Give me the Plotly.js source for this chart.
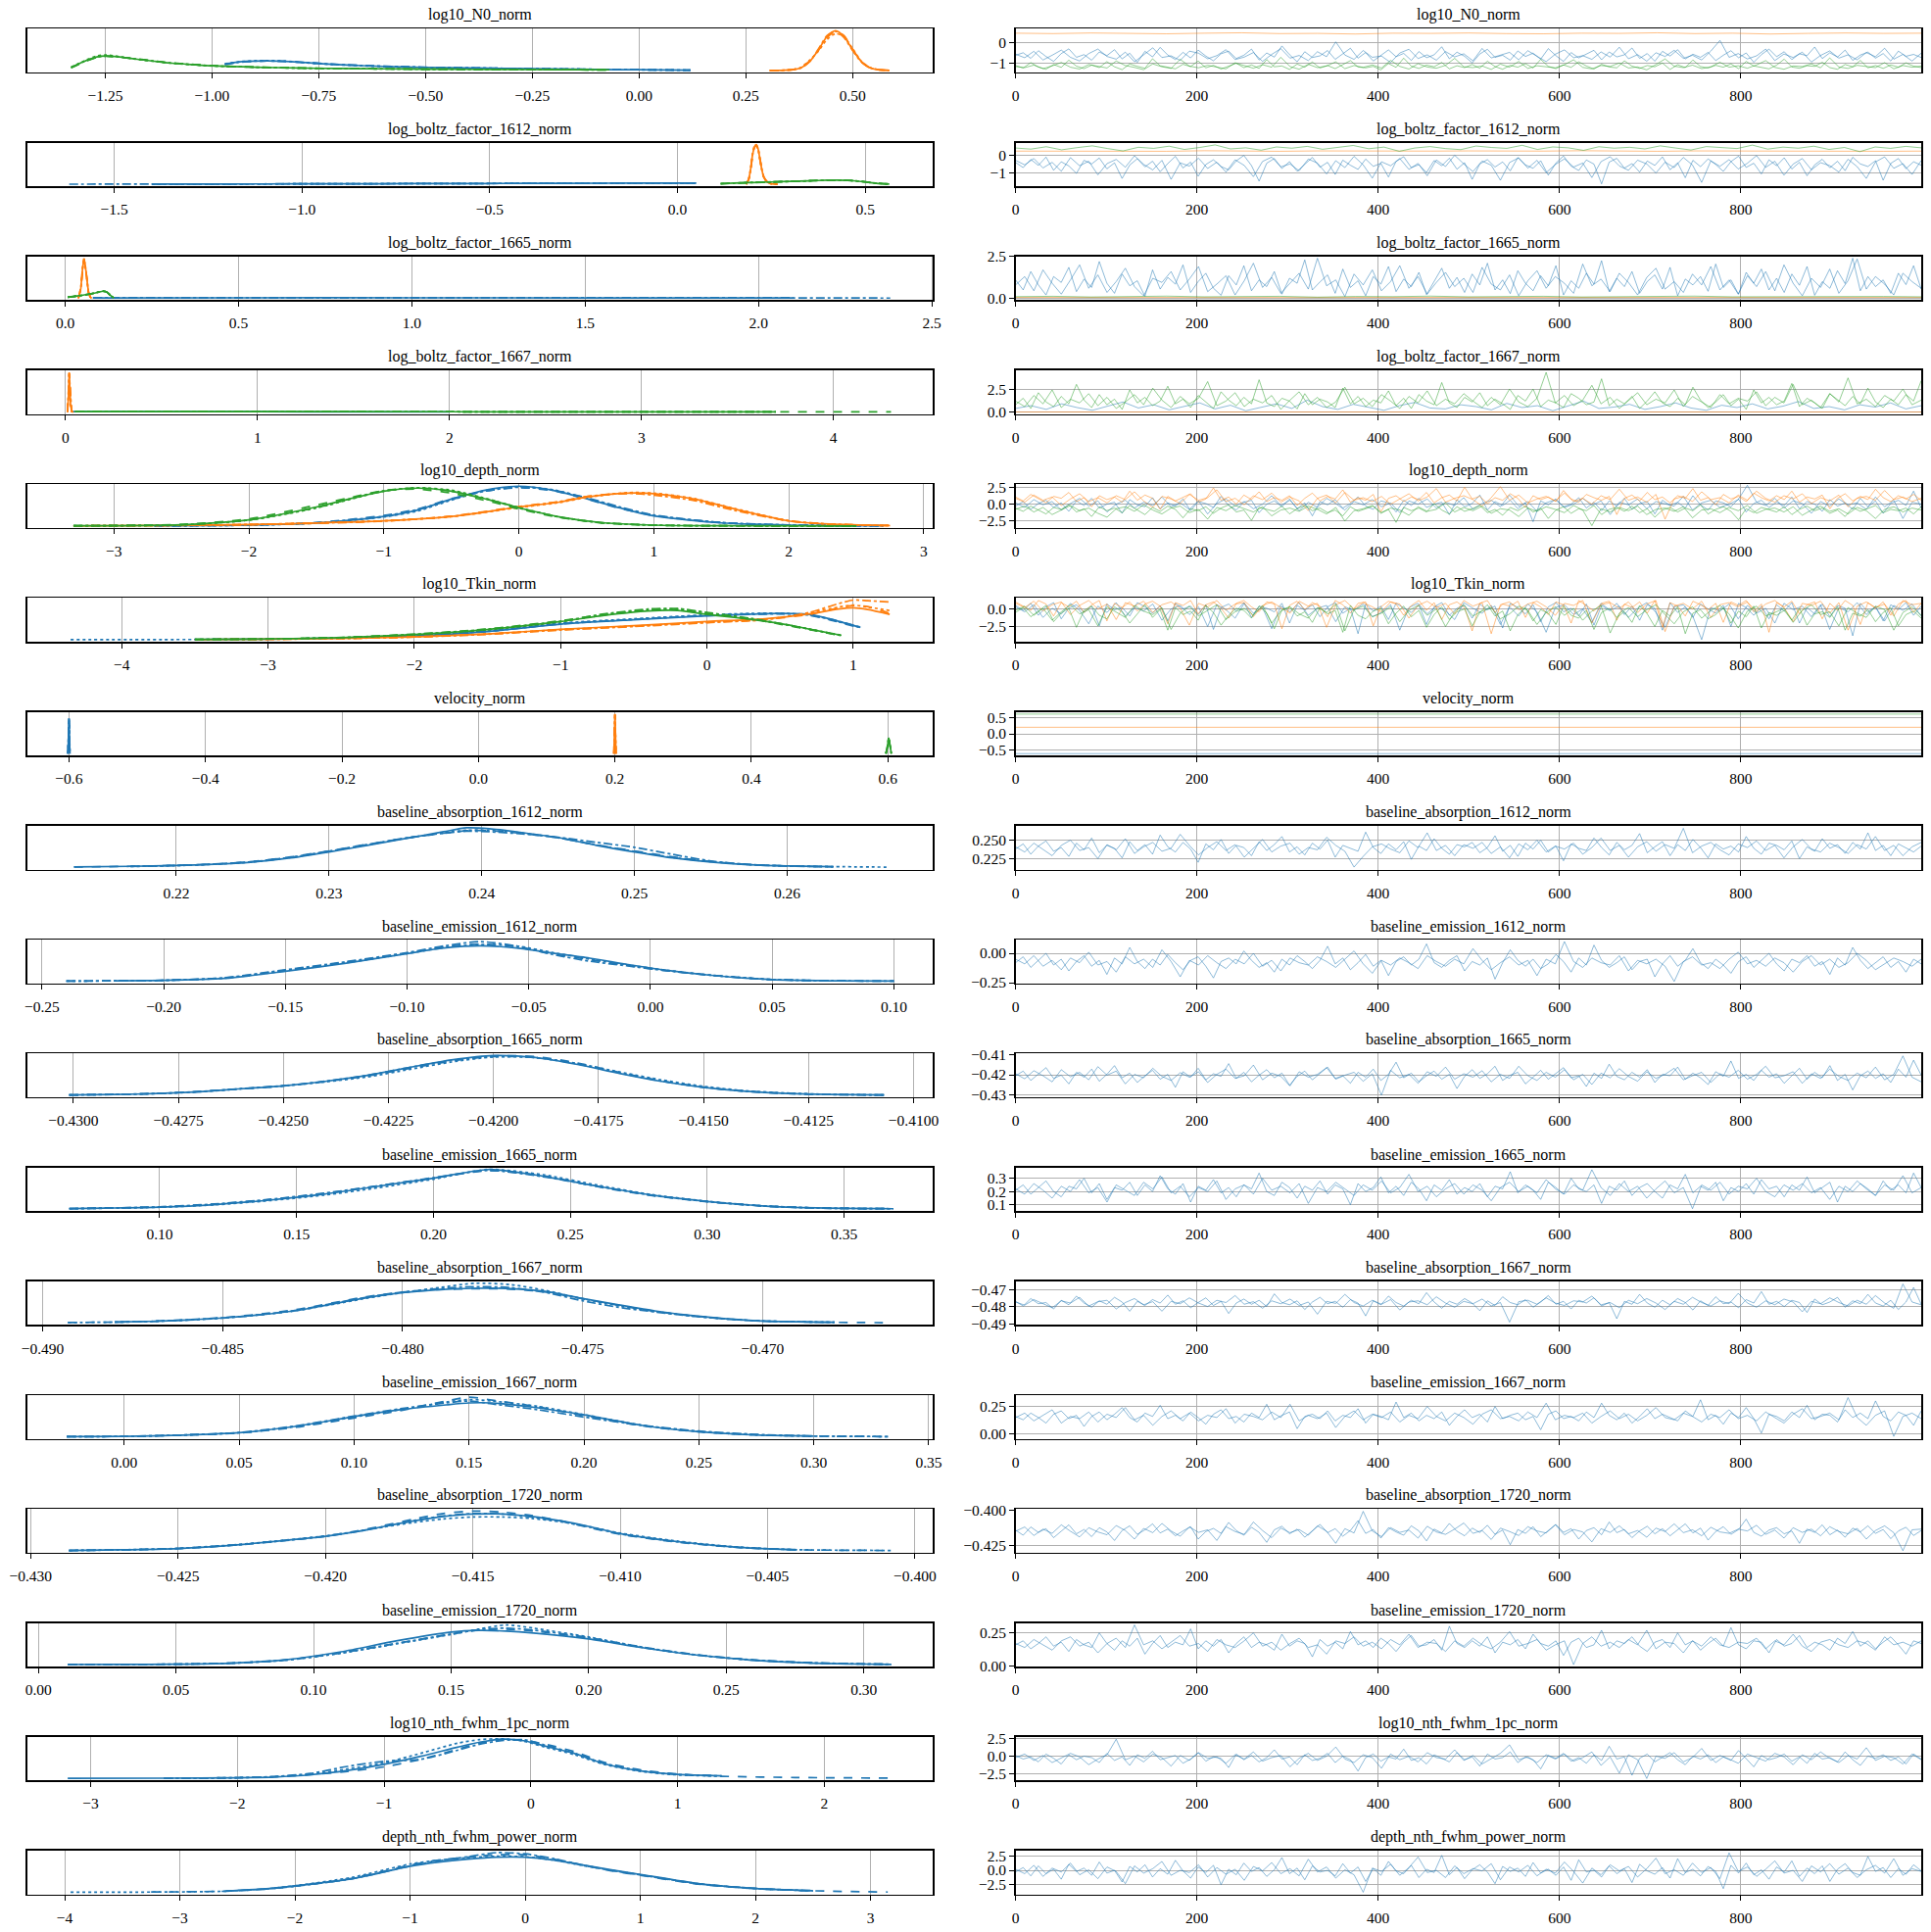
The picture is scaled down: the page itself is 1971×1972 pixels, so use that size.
<!DOCTYPE html>
<html><head><meta charset="utf-8">
<script src="https://cdn.plot.ly/plotly-3.0.1.min.js"></script>
<style>html,body{margin:0;padding:0;background:#fff}</style>
</head><body><div id="chart" style="width:1971px;height:1972px"></div>
<script>
// ---------- titles / axes text ----------
const titles = ["log10_N0_norm","log_boltz_factor_1612_norm","log_boltz_factor_1665_norm","log_boltz_factor_1667_norm","log10_depth_norm","log10_Tkin_norm","velocity_norm","baseline_absorption_1612_norm","baseline_emission_1612_norm","baseline_absorption_1665_norm","baseline_emission_1665_norm","baseline_absorption_1667_norm","baseline_emission_1667_norm","baseline_absorption_1720_norm","baseline_emission_1720_norm","log10_nth_fwhm_1pc_norm","depth_nth_fwhm_power_norm"];
// value range of each parameter (KDE x axis == trace y axis)
const valueRanges = [[-1.433,0.688],[-1.732,0.680],[-0.110,2.503],[-0.200,4.518],[-3.643,3.067],[-4.647,1.545],[-0.6613,0.6659],[0.21023,0.26954],[-0.2561,0.116],[-0.4311,-0.40954],[0.0516,0.3824],[-0.49043,-0.46527],[-0.04224,0.3518],[-0.43012,-0.39939],[-0.0041,0.3251],[-3.4326,2.7397],[-4.327,3.542]];
const kdeTicks = [[-1.25,-1,-0.75,-0.5,-0.25,0,0.25,0.5],[-1.5,-1,-0.5,0,0.5],[0,0.5,1,1.5,2,2.5],[0,1,2,3,4],[-3,-2,-1,0,1,2,3],[-4,-3,-2,-1,0,1],[-0.6,-0.4,-0.2,0,0.2,0.4,0.6],[0.22,0.23,0.24,0.25,0.26],[-0.25,-0.2,-0.15,-0.1,-0.05,0,0.05,0.1],[-0.43,-0.4275,-0.425,-0.4225,-0.42,-0.4175,-0.415,-0.4125,-0.41],[0.1,0.15,0.2,0.25,0.3,0.35],[-0.49,-0.485,-0.48,-0.475,-0.47],[0,0.05,0.1,0.15,0.2,0.25,0.3,0.35],[-0.43,-0.425,-0.42,-0.415,-0.41,-0.405,-0.4],[0,0.05,0.1,0.15,0.2,0.25,0.3],[-3,-2,-1,0,1,2],[-4,-3,-2,-1,0,1,2,3]];
const kdeFmt = [".2f",".1f",".1f",".0f",".0f",".0f",".1f",".2f",".2f",".4f",".2f",".3f",".2f",".3f",".2f",".0f",".0f"];
const trTicks = [[-1,0],[-1,0],[0,2.5],[0,2.5],[-2.5,0,2.5],[-2.5,0],[-0.5,0,0.5],[0.225,0.25],[-0.25,0],[-0.43,-0.42,-0.41],[0.1,0.2,0.3],[-0.49,-0.48,-0.47],[0,0.25],[-0.425,-0.4],[0,0.25],[-2.5,0,2.5],[-2.5,0,2.5]];
const trFmt = [".0f",".0f",".1f",".1f",".1f",".1f",".1f",".3f",".2f",".2f",".1f",".2f",".2f",".3f",".2f",".1f",".1f"];
const drawTicks = [0,200,400,600,800];

// ---------- KDE curves (x grid, density per chain: solid, dashed, dotted, dash-dot) ----------
const n0BlueX = [-0.97,-0.93,-0.90,-0.87,-0.83,-0.78,-0.72,-0.65,-0.55,-0.45,-0.35,-0.25,-0.15,-0.05,0.05,0.12];
const n0Blue = [[6.5,8.8,9.4,9.6,9.2,7.8,6.2,4.8,3.5,2.7,2.2,1.7,1.2,.8,.5,.3],[6,8.4,9.2,9.5,9.3,8,6.4,4.9,3.6,2.6,2.1,1.6,1.2,.8,.5,.3],[6.8,9,9.6,9.9,9.4,7.6,6,4.6,3.4,2.7,2.2,1.8,1.3,.9,.5,.3],[6.2,8.6,9.3,9.5,9,7.9,6.3,5,3.6,2.8,2.3,1.7,1.2,.8,.4,.2]];
const n0OrangeX = [.306,.33,.36,.38,.40,.42,.44,.46,.48,.50,.52,.54,.56,.586];
const n0Orange = [[0,.05,.7,2.9,9.2,20.8,34,40,34,20.8,9.2,2.9,.7,.05],[0,.1,.9,3.4,9.8,20,33,39,35,21.5,8.8,2.6,.6,.05],[0,.1,.8,3.1,10.5,19.5,31,37,34,22,9.5,3.0,.8,.1],[0,.05,.6,2.7,9,21.5,35,39.5,33,20,8.6,2.8,.7,.1]];
const n0GreenX = [-1.33,-1.30,-1.27,-1.25,-1.22,-1.18,-1.14,-1.10,-1.05,-1.0,-0.9,-0.8,-0.7,-0.6,-0.5,-0.4,-0.3,-0.2,-0.07];
const n0Green = [[3,9,13.5,14.6,13.8,11.5,9.5,7.5,6,4.6,3.3,2.4,1.9,1.6,1.3,1.1,.9,.8,.6],[2.5,8.5,13,14.2,13.5,11.8,9.8,7.8,6.2,4.8,3.4,2.5,1.9,1.5,1.2,1.0,.9,.7,.5],[3.2,9.5,14.5,15.6,14.2,11.4,9.3,7.4,5.8,4.5,3.2,2.3,1.8,1.5,1.3,1.1,.9,.8,.6],[2.8,8.8,13.2,14.4,13.6,11.6,9.6,7.6,6.1,4.7,3.3,2.4,1.9,1.6,1.3,1.1,.9,.7,.5]];

const b12BlueX = [-1.62,-1.4,-1.2,-1.0,-0.8,-0.6,-0.4,-0.2,0,0.05];
const b12Blue = [[null,.2,.3,.4,.55,.7,.9,1.1,1.3,1.2],[null,.2,.3,.45,.55,.75,.9,1.1,1.25,1.1],[null,.15,.3,.4,.6,.7,.95,1.1,1.3,1.2],[.1,.2,.3,.4,.55,.7,.9,1.05,1.3,1.2]];
const b12OrangeX = [.183,.19,.195,.20,.205,.21,.215,.22,.225,.23,.24,.25,.266];
const b12Orange = [[0,6,16,30,38,40,35,24,14,7,2,.5,0],[0,5,15,29,37,39,35,25,15,7.5,2.2,.5,0],[0,6.5,17,31,38.5,39,34,23,13.5,6.5,1.8,.4,0],[0,5.5,15.5,29.5,37.5,39.5,35.5,24.5,14.5,7,2,.5,0]];
const b12GreenX = [.115,.15,.2,.25,.3,.35,.4,.43,.46,.5,.53,.564];
const b12Green = [[.6,1.2,1.8,2.3,2.9,3.5,4.1,4.2,3.8,2.4,1,.3],[.5,1.1,1.7,2.3,3.0,3.6,4.2,4.3,3.7,2.3,1,.3],[.7,1.3,1.9,2.4,2.9,3.4,4.0,4.1,3.8,2.5,1.1,.3],[.6,1.2,1.8,2.2,2.8,3.5,4.1,4.2,3.9,2.4,1,.2]];

const b65BlueX = [.08,.5,1,1.5,2,2.1,2.38];
const b65Blue = [[.3,.35,.35,.3,.2,.15,null],[.3,.36,.34,.3,.2,.15,null],[.3,.35,.35,.31,.21,.16,null],[.3,.35,.35,.3,.2,.16,.1]];
const b65OrangeX = [.038,.045,.05,.054,.058,.062,.067,.072,.076];
const b65Orange = [[0,10,30,40,32,18,6,1,0],[0,9,28,39,33,19,6.5,1,0],[0,11,31,39.5,31,17,5.5,1,0],[0,10,29,40,32.5,18.5,6,1.2,0]];
const b65GreenX = [.007,.03,.06,.09,.11,.12,.13,.14];
const b65Green = [[1,2,3.5,5.5,7,6,3,.3],[1.1,2.1,3.6,5.4,6.8,6.2,3.2,.3],[.9,1.9,3.4,5.6,7.2,5.9,2.9,.3],[1,2,3.5,5.5,7,6.1,3,.4]];

const b67BlueX = [.03,.3,.6,1,1.5,2];
const b67Blue = [[.4,.5,.45,.35,.2,.1]];
const b67OrangeX = [.01,.015,.019,.022,.026,.032,.04];
const b67Orange = [[0,15,41,30,8,.5,0],[0,14,40,31,9,.6,0],[0,16,40.5,29,7.5,.5,0],[0,15,40,30,8,.5,0]];
const b67GreenX = [.05,.3,.6,1,1.5,2,2.5,3,3.7,4.3];
const b67Green = [[.5,.5,.45,.4,.35,.3,.25,.2,.15,null],[.5,.5,.45,.4,.35,.3,.25,.2,.15,.1],[.5,.5,.46,.4,.35,.3,.25,.2,.15,null],[.5,.49,.45,.4,.35,.3,.25,.2,.15,null]];

const depBlueX = [-2.7,-2,-1.5,-1,-.75,-.5,-.25,0,.25,.5,.75,1,1.5,2,2.7];
const depBlue = [[.1,.8,3,9.5,16,27,36,40,36,27.5,18,10,3,.8,.1],[.1,.9,3.4,10.5,17,27.5,35,38.5,35.5,27,17.5,10.5,3.3,.8,.1],[.1,.7,2.8,9,15,26,35.5,39.5,36.5,28,18.5,10.5,3.2,.9,.1],[.1,.8,3.1,9.8,16.5,26.5,35,39,36,28.5,19,11,3.4,.9,.1]];
const depOrangeX = [-3.3,-2.5,-2,-1.5,-1,-.5,0,.3,.5,.8,1,1.3,1.6,2,2.3,2.75];
const depOrange = [[0,.6,1.3,2.8,5,9.5,19,24,29,33,32.5,27,17,5,1.8,.3],[0,.5,1.2,2.6,4.8,9.8,19.5,24.5,29.5,32.5,31.5,26,16.5,5.2,1.9,.3],[0,.6,1.4,3,5.2,9.3,18.5,23.5,28.5,33.5,33,27.5,17.5,5.3,1.8,.3],[0,.6,1.3,2.9,5,9.5,19,24.5,29.5,33,31,25.5,15.5,5,1.7,.3]];
const depGreenX = [-3.3,-2.5,-2,-1.5,-1.2,-1,-.75,-.5,-.2,0,.3,.6,1,1.5,2.5];
const depGreen = [[.1,1.2,6,19,29,35,38,35,25.6,18.3,9.1,3.5,.8,.1,0],[.2,1.5,7,21,30,35.5,37,33,24,17,8.5,3.2,.7,.1,0],[.1,1.1,5.8,18,28.5,35,38.5,36,26,18.5,9,3.3,.7,.1,0],[.1,1.2,6,18.5,29,35.5,38.2,35,25.5,18,9,3.4,.8,.1,0]];

const tkBlueX = [-4.35,-3.5,-3,-2.5,-2,-1.5,-1,-.5,0,.3,.5,.7,.85,1.05];
const tkBlue = [[null,.2,.7,1.8,4,8.5,16,20.5,24.4,26.3,27,26,21,12.7],[null,.2,.7,1.9,4.2,8.8,16.5,21,25,26.5,26.8,25,20,12],[.1,.3,.8,2,4.3,9,17,21.5,25.5,27,27.2,25.5,20.5,12.5],[null,.2,.7,1.8,4.1,8.6,16.2,20.8,24.8,26,26.5,25.5,21,13]];
const tkOrangeX = [-3.5,-3,-2.5,-2,-1.5,-1,-.5,0,.4,.7,.9,1.0,1.1,1.25];
const tkOrange = [[.2,.6,1.4,3,6,10.7,14.4,18.7,21.5,26.5,31.5,32.7,31,26],[.2,.6,1.3,2.8,5.8,10.2,13.8,17.8,20.8,26,32.5,35,34,27],[.2,.6,1.4,3,5.9,10.5,14,18,21,27.5,33.5,35.5,33.5,30],[.2,.5,1.3,2.8,5.6,10,13.5,17.5,20.5,28,37,40.7,40,38.7]];
const tkGreenX = [-3.5,-3,-2.5,-2,-1.5,-1,-.7,-.4,-.2,0,.3,.5,.7,.92];
const tkGreen = [[.3,.8,2.2,5.4,10.5,18.7,25,29.5,30,26,21,16.7,11,4.5],[.3,.9,2.4,5.8,11,19.5,26,30.5,31,27,21.5,16,10.5,4.2],[.2,.8,2.1,5.2,10.3,18.5,25.5,30.5,31.5,27.5,21,16.5,11,4.6],[.3,.8,2.3,5.5,10.8,19,26.5,31.5,32,28,22,16.8,10.8,4.3]];

const velBlueX = [-.6015,-.601,-.6005,-.6,-.5995,-.599,-.5985];
const velBlue = [[0,8,28,37,28,8,0],[0,7,27,36,29,9,0],[0,9,29,36.5,27,7,0],[0,8,28,37,28,8,0]];
const velOrangeX = [.1985,.199,.1995,.2,.2005,.201,.2015];
const velOrange = [[0,9,30,41.6,30,9,0],[0,8,29,41,31,10,0],[0,10,31,40.5,29,8,0],[0,9,30,41.2,30,9,0]];
const velGreenX = [.597,.598,.599,.6,.601,.602,.603,.604,.605];
const velGreen = [[0,2,6,11,16.6,14,8,3,0],[0,2.5,6.5,12,16,13,7,2.5,0],[0,1.8,5.5,10.5,16.2,14.5,8.5,3,0],[0,2,6,11.5,16.4,13.5,7.5,2.8,0]];

const ab12X = [.2133,.217,.22,.2225,.225,.2275,.23,.2325,.235,.2375,.239,.2405,.2425,.245,.2475,.25,.2525,.255,.2575,.26,.263,.2665];
const ab12 = [[.5,1.2,2,3.3,5.4,9.5,15.4,22,28.7,35.5,39.4,38.5,35,29.7,22,15.4,9.5,5.4,2.8,1.5,.8,null],[.5,1.2,2.1,3.5,6,10.5,16.5,23,29,34,36.5,36.5,34,29.5,22.5,16.5,10.5,6,3,1.6,.8,null],[null,1,1.9,3.2,5.5,10,16,22.5,29,34.5,37,37,34.5,29.5,22.5,16,10,5.8,3,1.6,.9,.4],[null,1.1,2,3.4,5.8,10.2,16.2,22.8,29.2,34,36,35.5,33.5,30,25,20,13,6.5,3,1.4,.7,null]];
const em12X = [-.24,-.22,-.2,-.175,-.15,-.125,-.1,-.085,-.07,-.055,-.04,-.025,-.01,.005,.025,.05,.075,.1];
const em12 = [[null,.6,1,3,10,18,27.5,33,35.3,33,28,23,17,11.5,6,1.7,.6,.3],[.3,.6,1.1,3.5,11,19,28,34,37,34,27,21.5,16,11,6,1.8,.6,.3],[.3,.5,1,3.2,10.5,18.5,27.5,33.5,36.5,35,28.5,22,16.5,11.5,6.2,1.9,.7,null],[.3,.6,1.1,3.6,11.5,19.5,28.5,35,39.3,35,26.5,20,15.5,11,6,1.8,.6,.3]];
const ab65X = [-.4301,-.429,-.428,-.427,-.426,-.425,-.424,-.423,-.422,-.421,-.42,-.419,-.418,-.417,-.416,-.415,-.414,-.413,-.412,-.4107];
const ab65 = [[.3,.8,1.7,3.6,6.6,9.5,14,20,28,35.5,40,38,31,22,14,8,4,1.8,.8,.3],[.3,.8,1.8,3.7,6.5,9.4,13.8,19.5,27,34.5,39.5,39,32.5,23,14.5,8,3.9,1.7,.7,.3],[.3,.8,1.7,3.5,6.4,9.3,13.5,18.5,26,33.5,38.5,38,32,23.5,15.5,9,4.6,2.2,.9,.3],[.3,.9,1.8,3.7,6.7,9.6,14.2,20.2,28,35,39,38,31.5,22.5,14.2,8.2,4.1,1.8,.7,.3]];
const em65X = [.067,.08,.1,.12,.14,.16,.18,.2,.22,.24,.26,.28,.3,.32,.34,.368];
const em65 = [[.5,1,2,4.5,9,15,23,31,39.7,33,23,14,7.7,3.3,1.2,.4],[.5,1,2.2,5,9.5,15.5,23.5,31,38.5,33.5,22.5,13.5,7.4,3.2,1.1,.4],[.4,.9,1.9,4.3,8.5,14,21.5,30,39.8,34.5,24,14.5,7.9,3.4,1.2,.4],[.5,1.1,2.3,5.2,9.8,16,23.5,31.5,38.8,32.5,22.8,13.8,7.6,3.2,1.1,.4]];
const ab67X = [-.4893,-.488,-.487,-.486,-.485,-.484,-.483,-.482,-.481,-.48,-.479,-.478,-.477,-.476,-.475,-.474,-.473,-.472,-.471,-.47,-.468,-.4664];
const ab67 = [[null,.9,1.6,3,5,8,12,18.5,25,30,33,34.3,34,31,24.3,18,12,7.5,4.2,2,.7,null],[.5,.9,1.7,3.2,5.4,8.6,13,19.5,26,30.5,33,34,33.5,30.5,24,17.5,11.5,7.2,4,1.9,.7,.3],[.5,.9,1.6,3,5,8,12,18,24.5,30,35,39.3,38,32,24,17,11.5,7.2,4,2,.8,null],[null,.8,1.5,2.9,4.9,8,12.3,19,25.5,30.5,34,36,35,30,22,15.5,11,7,4,2,.7,null]];
const em67X = [-.025,0,.025,.05,.075,.1,.12,.14,.15,.16,.18,.2,.225,.25,.275,.3,.333];
const em67 = [[.2,.5,1.8,4.3,11,21,28,33,35,35,30,22.7,12,5.3,2,.8,null],[.2,.5,1.7,4,10,19.5,27,37,41,38,31,22,11.5,5.2,2,.8,.3],[.2,.5,1.8,4.2,10.8,20.5,28,36,38.5,37,31.5,23,12.2,5.4,2,.8,.3],[.2,.5,1.9,4.5,11.5,21.5,29,35,37,34,28,20.5,12,6,2.6,.9,.3]];
const ab20X = [-.4287,-.427,-.425,-.423,-.421,-.42,-.419,-.418,-.417,-.416,-.415,-.414,-.413,-.412,-.411,-.41,-.408,-.406,-.404,-.4008];
const ab20 = [[.3,.9,2.3,6,11.5,14.6,19,24.5,30,34.5,37,37,34.5,30,24,17.3,9,3.5,1,null],[.3,.9,2.3,6,11.5,14.8,19.5,25.5,32,37.5,40,39,35.5,30,23,16.5,8.5,3.3,1,.3],[.3,.9,2.4,6.2,11.8,15,19.2,24,28.5,32,34,34,32.5,29,24,17.8,9.5,3.8,1.1,.3],[.3,.8,2.2,5.8,11.3,14.5,19,24.5,30.5,35,37.5,37,34,29.5,23.5,17,8.8,3.4,1,null]];
const em20X = [.0107,.03,.05,.07,.09,.11,.13,.15,.16,.17,.18,.2,.22,.24,.26,.28,.3,.31];
const em20 = [[.1,.2,.4,1.5,5,13,24,33,34.7,34,32,26,17,9.5,4.5,1.8,.6,.3],[.1,.2,.5,1.6,4.8,12,21.5,31,35,36,34,27,17.5,9.8,4.6,1.9,.6,.3],[.1,.2,.5,1.5,4.5,11.5,21,30.5,36,40.3,37,28,17.5,9.5,4.5,1.8,.6,.3],[.1,.2,.4,1.4,4.6,12,21.5,31,35.5,37,35,27.5,17.2,9.6,4.7,2,.8,.4]];
const nthX = [-3.156,-2.5,-2,-1.75,-1.5,-1.25,-1,-.75,-.5,-.35,-.2,-.05,.1,.3,.5,.75,1,1.3,1.8,2.45];
const nth = [[.1,.3,.7,1.5,3.7,8,14,22,31,36,39,37.5,32,24.7,14.7,7.5,4,2.7,null,null],[null,.3,.8,1.6,3.8,7,11.5,19,29,35,38.5,38,34,26.5,16,8.5,4.5,2.2,1,.4],[null,.3,.8,1.8,4.2,9.5,15.5,25,35,38.5,39.4,37,31,23.5,14,7,3.6,2.3,null,null],[null,.2,.7,2,5,12,17,19,28,34,37.5,38.5,33,25,15,7.8,4,2.6,null,null]];
const dnpX = [-3.95,-3.25,-2.6,-2.25,-2,-1.5,-1,-.75,-.5,-.25,0,.25,.5,.75,1,1.5,2,2.5,3.15];
const dnp = [[null,null,1.5,3.8,6.7,14,26.7,31,34,36,36,33,28,23,18.4,9,4,1.7,null],[null,.4,1.2,3.5,6.3,14.5,28,33,36,38.5,38.5,34,28,22,17.5,8.5,3.8,1.6,.3],[.2,.3,1.2,3.6,6.8,15.5,29,33,35.5,37,36.5,33,27.5,22.5,18,8.8,3.9,1.5,null],[null,null,1.3,3.4,6.2,14,27,32.5,36.5,40.7,39.5,34.5,28,22.5,18,9,4.1,1.8,null]];

// ---------- traces (draws, thinned; two chains for noisy components) ----------
const trN0Blue = [-.55,-.72,-.41,-.83,-.6,-.35,-.7,-.88,-.52,-.3,-.66,-.79,-.45,-.92,-.58,-.24,-.71,-.63,-.85,-.4,-.5,-.77,-.62,-.33,-.81,-.69,-.47,-.9,-.56,-.28,-.74,-.61,-.86,-.43,-.67,.05,-.59,-.8,-.37,-.7,-.64,-.95,-.49,-.31,-.76,-.58,-.84,-.42,-.68,-.53,-.87,-.27,-.73,-.6,-.46,-.82,-.38,-.65,-.91,-.55,-.34,-.72,-.62,-.8,-.44,-.69,-.21,-.77,-.57,-.89,-.48,-.66,-.36,-.75,-.6,-.83,-.4,.12,-.7,-.52,-.78,-.63,-.3,-.86,-.54,-.71,-.45,-.93,-.61,-.39,-.74,-.58,-.82,-.47,-.67,-.26,-.79,-.56,-.88,-.5];
const trN0Blue2 = [-.6,-.48,-.75,-.38,-.66,-.9,-.52,-.29,-.7,-.57,-.84,-.44,-.62,-.33,-.78,-.5,-.95,-.41,-.68,-.22,-.59,-.81,-.46,-.73,-.35,-.64,-.87,-.53,-.4,-.76,-.6,-.3,-.83,-.49,-.69,-.15,-.57,-.92,-.43,-.71,-.63,-.37,-.8,-.55,-.26,-.74,-.47,-.88,-.61,-.34,-.67,-.51,-.85,-.42,-.72,-.58,-.19,-.77,-.45,-.65,-.97,-.54,-.31,-.7,-.6,-.84,-.39,-.66,-.5,-.79,-.28,-.62,-.9,-.47,-.73,-.56,-.36,-.82,-.44,-.68,-.58,-.25,-.75,-.52,-.89,-.41,-.64,-.33,-.78,-.55,-.7,-.46,-.86,-.6,-.38,-.72,-.49,-.94,-.57,-.3,-.67,-.43,-.81,-.53,-.62,-.2,-.76,-.48,-.69,-.35,-.85,-.59,-.45,-.74,-.52,-.88,-.4,-.65,-.56,-.71];
const trN0Orange = [.47,.45,.48,.46,.44,.47,.49,.45,.46,.43,.47,.46,.48,.45,.44,.47,.46,.49,.45,.47,.43,.46,.48,.46,.47];
const trN0Green = [-1.15,-1.2,-1.08,-1.25,-1.12,-.95,-1.18,-1.27,-1.05,-1.14,-1.22,-.88,-1.1,-1.19,-1.3,-1.02,-1.16,-1.24,-.8,-1.13,-1.21,-1.09,-1.17,-1.26,-.97,-1.11,-1.23,-1.06,-1.18,-.7,-1.15,-1.28,-1.04,-1.2,-1.12,-.92,-1.25,-1.1,-1.19,-1.07,-1.22,-.85,-1.14,-1.27,-1.01,-1.17,-1.23,-1.09,-.75,-1.16,-1.2,-1.12,-1.29,-1.03,-1.18,-.9,-1.24,-1.11,-1.15,-1.21,-1.06,-.82,-1.19,-1.26,-1.1,-1.14,-.98,-1.22,-1.17,-1.31,-1.05,-.78,-1.13,-1.2,-1.08,-1.25,-1.16,-.94,-1.18,-1.11,-1.23,-1.07,-.86,-1.19,-1.28,-1.12,-1.15,-1.02,-1.21,-.73,-1.17,-1.24,-1.09,-1.14,-1.2,-.96,-1.26,-1.1,-1.18,-1.13];
const trN0Green2 = [-1.1,-1.22,-.96,-1.17,-1.28,-1.05,-1.19,-.84,-1.13,-1.25,-1.08,-1.2,-.91,-1.16,-1.3,-1.02,-1.14,-1.23,-.77,-1.11,-1.18,-1.26,-1.04,-1.15,-.88,-1.21,-1.09,-1.27,-1.13,-.99,-1.2,-1.07,-1.24,-.81,-1.16,-1.12,-1.29,-1.03,-1.18,-.93,-1.22,-1.1,-1.25,-1.06,-.86,-1.17,-1.21,-1.14,-1.31,-1.0,-1.19,-.74,-1.13,-1.24,-1.08,-1.16,-.95,-1.26,-1.11,-1.2,-1.05,-1.23,-.89,-1.15,-1.28,-1.09,-1.18,-1.01,-1.22,-.8,-1.14,-1.25,-1.07,-1.19,-.92,-1.12,-1.27,-1.04,-1.17,-1.21,-.87,-1.13,-1.24,-1.1,-1.16,-.98,-1.29,-1.06,-1.2,-.83,-1.15,-1.22,-1.09,-1.18,-1.02,-1.25,-.9,-1.12,-1.19,-1.26,-1.08,-.79,-1.17,-1.23,-1.11,-1.14,-.94,-1.2,-1.28,-1.05,-1.16,-.85,-1.21,-1.1,-1.24,-1.07,-1.18,-.97,-1.13,-1.2];
const trB12Blue = [-.3,-.55,-.2,-.72,-.41,-.9,-.15,-.6,-.35,-1.1,-.48,-.25,-.68,-.05,-.52,-.83,-.3,-1.35,-.44,-.62,-.18,-.75,-.4,-.95,-.27,-.58,-1.2,-.36,-.12,-.66,-.5,-.88,-.23,-.45,-1.05,-.32,-.7,-.08,-.55,-1.28,-.38,-.6,-.2,-.8,-.47,-1.15,-.28,-.64,-.02,-.5,-.92,-.34,-.57,-1.4,-.42,-.16,-.73,-.3,-.98,-.53,-.22,-.67,-.45,-1.25,-.37,-.1,-.61,-.85,-.29,-.5,-1.0,-.4,-.7,-.14,-.56,-1.52,-.33,-.63,-.26,-.78,-.46,-.04,-.69,-.35,-1.12,-.51,-.2,-.82,-.43,-.59,-.95,-.24,-.65,-1.3,-.39,-.11,-.74,-.48,-1.08,-.31];
const trB12Blue2 = [-.42,-.7,-.25,-.58,-.12,-.85,-.38,-.61,-1.02,-.3,-.5,-.17,-.77,-.44,-1.3,-.56,-.21,-.66,-.35,-.93,-.48,-.08,-.72,-.4,-1.18,-.53,-.27,-.64,-.83,-.33,-.03,-.59,-1.45,-.46,-.2,-.75,-.37,-.9,-.52,-.14,-.68,-.41,-1.08,-.29,-.57,-.8,-.23,-.63,-.47,-1.22,-.36,-.1,-.7,-.54,-.97,-.31,-.6,-.18,-.79,-.43,-1.35,-.5,-.26,-.67,-.39,-.88,-.15,-.55,-.74,-.32,-1.12,-.45,-.06,-.62,-.86,-.28,-.51,-1.6,-.4,-.19,-.73,-.48,-.95,-.34,-.58,-.11,-.82,-.44,-1.26,-.3,-.65,-.22,-.53,-.91,-.37,-.07,-.69,-.46,-1.05,-.27,-.6,-.16,-.78,-.41,-1.15,-.55,-.24,-.71,-.35,-.87,-.13,-.5,-.64,-.32,-1.4,-.47,-.2,-.76,-.38,-.57];
const trB12Orange = [.21,.2,.22,.21,.2,.23,.21,.2,.22,.21,.19,.21,.22,.2,.21,.23,.21,.2,.22,.21,.2,.22,.21,.2,.21];
const trB12Green = [.38,.32,.45,.28,.4,.5,.35,.22,.42,.36,.48,.3,.41,.55,.33,.39,.26,.44,.37,.47,.31,.4,.52,.34,.43,.2,.38,.46,.35,.29,.49,.41,.36,.53,.3,.44,.39,.25,.45,.37,.42,.33,.5,.38,.27,.46,.4,.35,.54,.32,.43,.37,.48,.3,.41,.18,.44,.36,.47,.39];
const trB65Blue = [.8,1.3,.45,1.7,.9,.25,1.1,2.0,.6,1.4,.35,1.0,1.8,.7,.15,1.2,.95,1.6,.5,1.15,1.9,.4,.85,1.35,.2,1.05,2.1,.65,1.25,.3,.9,1.5,.55,2.4,.75,1.1,.1,1.45,.8,1.7,.45,1.0,1.95,.6,1.3,.25,.95,1.55,.7,1.2,.35,1.85,.85,.5,1.4,.15,1.05,1.65,.6,1.3,.9,.3,2.05,.75,1.15,.4,1.5,.95,.2,1.25,1.8,.55,1.0,.35,1.45,.8,1.9,.5,1.1,.25,1.35,.7,1.6,.45,2.0,.9,.15,1.2,.65,1.75,.3,1.05,2.35,.55,1.3,.85,.2,1.5,1.0,.6];
const trB65Blue2 = [1.1,.5,1.6,.8,.2,1.3,.95,1.85,.4,1.15,.65,2.2,.9,.3,1.45,.75,1.05,.12,1.7,.55,1.25,.85,2.0,.35,1.0,1.5,.6,.18,1.35,.8,1.95,.45,1.1,.7,1.6,.25,1.2,.9,2.3,.5,.98,1.4,.3,1.75,.65,1.05,.15,1.3,.85,1.9,.4,1.15,.7,1.55,.22,1.0,1.8,.6,1.25,.35,1.45,.8,2.1,.5,1.1,.28,1.65,.9,.45,1.35,.75,1.95,.2,1.05,.6,1.5,.85,2.25,.4,1.2,.7,1.6,.3,1.0,1.4,.55,1.85,.15,1.15,.8,1.3,.42,2.05,.65,1.1,.25,1.55,.9,1.75,.5,1.2,.35,1.45,.78,1.9,.18,1.0,.6,1.65,.88,2.4,.45,1.3,.7,1.1,.3,1.5,.82,1.95,.55];
const trB65Orange = [.055,.05,.06,.054,.058,.052,.056,.06,.05,.055,.057,.053,.059,.055,.051,.056,.058,.054,.06,.053,.055,.057,.052,.056,.055];
const trB65Green = [.1,.12,.08,.11,.13,.09,.1,.12,.07,.11,.1,.13,.09,.11,.12,.08,.1,.11,.13,.09,.1,.12,.1,.11,.09];
const trB67Blue = [.4,.7,.3,.9,.5,.2,.65,1.1,.45,.8,.25,.6,1.0,.35,.75,.15,.55,.9,.4,1.3,.6,.3,.85,.5,.2,.7,1.05,.45,.35,.8,.6,.25,.95,.5,.7,.15,.65,1.2,.4,.55,.85,.3,.6,1.0,.45,.2,.75,.5,.9,.35,.65,1.15,.4,.6,.25,.8,.55,1.0,.35,.7];
const trB67Orange = [.02,.025,.018,.022,.02,.03,.019,.021,.024,.017,.02,.023,.02,.026,.019,.021,.02,.024,.018,.02];
const trB67Green = [1.2,.6,1.8,.9,2.4,.5,1.4,1.0,2.0,.7,1.6,.4,1.1,1.9,.8,2.6,1.3,.5,1.7,.9,1.5,3.3,.7,1.2,2.1,.6,1.4,1.0,1.8,.3,1.3,2.2,.8,1.6,.5,1.1,2.7,.9,1.5,.6,1.9,1.2,.4,1.7,1.0,2.3,.7,1.4,.9,2.0,1.2,.5,1.6,.8,2.5,1.1,.6,1.5,4.3,1.0,1.8,.7,1.3,2.9,.9,1.6,.4,1.2,2.1,.8,1.4,1.0,2.4,.6,1.7,1.1,.5,1.9,.9,1.5,1.2,2.2,.7,1.6,1.0,3.0,.8,1.3,.5,2.0,1.1,3.7,.9,1.4,.6,1.8,1.2,2.5,.8,1.3];
const trB67Green2 = [.8,1.5,.4,2.1,1.1,.6,1.7,.9,3.0,1.3,.5,1.9,.8,1.4,.3,2.4,1.0,1.6,.7,1.2,2.8,.9,1.4,.5,1.8,1.1,.4,2.2,1.3,.7,1.6,.9,3.5,1.0,.6,1.5,1.2,.35,2.0,.8,1.4,1.1,.5,2.6,.9,1.7,.6,1.3,1.0,2.3,.7,1.5,.4,1.9,1.2,.8,3.2,1.0,.5,1.6,1.1,2.1,.7,1.4,.9,.3,1.8,1.2,2.5,.6,1.3,1.0,.5,2.0,1.5,.8,1.1,3.6,.7,1.4,.9,1.7,.4,1.2,2.2,1.0,.6,1.5,.8,2.7,1.3,.5,1.1,1.9,.7,1.4,.3,2.4,1.0,1.6,.8,1.2,3.1,.6,1.5,1.0,.4,2.0,1.3,.7,1.7,.9,2.6,1.1,.5,1.4,.8,1.9,1.2,3.4];
const trDepBlue = [.2,-.5,.7,-.1,.4,-.9,.1,.9,-.3,.5,-1.2,0,.6,-.6,.3,-.2,1.1,-.4,.2,-.8,.5,-1.5,.1,.8,-.3,.4,-.7,0,1.3,-.2,.6,-1,.3,-.5,.9,.1,-.9,.4,-.1,.7,-.4,.2,-1.3,.5,0,.8,-.6,.3,-.2,1,-.8,.1,.6,-.4,1.4,-.3,.4,-1.1,.2,.7,-.5,0,.9,-.2,.5,-1.6,.3,-.1,.8,-.7,.4,.1,-.3,1.2,-.9,.2,.6,-.5,0,.7,2.9,.3,-.2,.9,-.6,.5,.1,-1.4,.4,-.3,.8,-.1,.2,-.8,1.1,-.4,.6,-2.2,.3,0];
const trDepBlue2 = [-.3,.4,-.8,.1,.6,-.5,.2,-1.1,.5,-.2,.9,-.6,0,.3,-1.4,.7,-.1,-.4,1.0,-.7,.2,-.3,.8,-1.0,.4,.1,-.5,1.2,-.2,-.9,.3,.6,-1.3,0,.5,-.4,.8,-.7,.2,-1.8,.4,-.1,.7,-.6,.1,1.1,-.3,-.8,.5,.2,-1.2,.6,-.2,.9,-.5,0,.3,-1.6,.7,-.4,.1,1.4,-.9,.4,-.2,.6,-.7,.2,-2.7,.5,-.1,.8,-.4,0,1.0,-.6,.3,-1.0,.5,-.3,.9,-.8,.1,.4,-1.5,.6,-.2,.3,-.6,1.3,-.1,-.9,.5,.2,-.4,.8,-1.2,.1,.6,-.5,.3,-.2,1.1,-.7,.4,0,-1.1,.7,-.3,.2,-.8,.9,-.4,.5,-1.4,.1,.6,-.2,2.0,-.6];
const trDepOrange = [.9,.3,1.4,.6,1.1,-.2,.8,1.6,.4,1.0,.2,1.3,.7,1.9,.5,-.5,1.2,.8,.1,1.5,.6,1.0,2.2,.4,.9,-.1,1.3,.7,1.7,.3,1.1,.5,-1.0,.9,1.4,.2,1.8,.6,1.0,.4,1.2,0,.8,1.6,.5,1.1,2.4,.3,.9,1.3,.7,-.3,1.0,2.7,.6,1.4,.2,.8,1.2,.5,1.7,.4,.9,0,1.3,.7,2.3,.6,1.1,.3,1.5,-2.3,.8,1.2,.4,1.9,.7,1.0,.2,1.4,.6,2.0,.9,.3,1.3,.8,1.6,.1,1.0,.5,1.4,-.4,.9,1.2,.6,2.1,.7,1.1,.4,.9];
const trDepOrange2 = [1.1,.5,1.5,.8,.2,1.2,.9,1.8,.4,1.0,-.4,1.3,.7,1.1,.3,2.0,.6,1.4,.9,-.8,1.2,.5,1.0,1.6,.3,.8,2.5,.6,1.1,0,1.4,.7,1.9,.4,1.0,.6,1.3,-.2,.9,1.7,.5,1.2,.8,2.2,.3,1.0,.6,1.5,-1.2,.9,1.3,.4,1.1,.7,1.8,.2,1.0,1.4,.5,2.6,.8,1.2,.1,1.0,.6,1.6,.9,-.5,1.3,.7,1.1,.4,2.1,.8,.3,1.5,1.0,.6,1.2,-1.6,.9,1.4,.5,1.8,.7,1.1,.2,1.3,.9,2.4,.6,1.0,-.1,1.5,.8,1.2,.4,1.7,1.0,.5,1.3,.7,2.0,.3,1.1,.8,1.4,-.7,.9,1.6,.5,1.2,.7,2.3,1.0,.4,1.3,.8,1.5,.6];
const trDepGreen = [-.8,-.3,-1.2,-.5,-1.6,-.9,-.2,-1.0,-.6,-1.4,-2.0,-.7,-.4,-1.1,-.1,-.9,-1.5,-.6,-.3,-1.3,-.8,-2.3,-.5,-1.0,-.2,-.7,-1.2,-.4,-1.8,-.9,-.6,-1.1,-.3,-.8,-1.5,-.5,-2.6,-1.0,-.7,-.2,-1.3,-.6,-.9,-1.7,-.4,-1.1,-.8,.2,-1.2,-.5,-1.0,-.3,-1.4,-.7,-.9,-1.9,-.6,-1.1,-.4,-.8,-1.3,-.2,-.9,-3.3,-.7,-1.2,-.5,-1.0,-.3,-1.6,-.8,-.6,-1.1,-.4,-2.1,-.9,-.7,-1.3,-.5,-1.0,-.2,-1.4,-.8,-.6,-1.2,-.4,-1.7,-.9,-.3,-1.1,-.7,-1.5,-.5,-1.0,-2.2,-.8,-.4,-1.2,-.6,-.9];
const trDepGreen2 = [-.6,-1.1,-.3,-.9,-1.5,-.5,-.8,-.1,-1.2,-.7,-1.9,-.4,-1.0,-.6,-1.3,-.2,-.9,-1.6,-.5,-1.1,-.3,-.8,-2.1,-.7,-1.0,-.4,-1.4,-.6,-.1,-1.2,-.9,-2.5,-.5,-.8,-1.1,-.3,-1.5,-.7,-.2,-1.0,-.6,-1.3,-.9,-1.8,-.4,-1.1,-.7,-.3,-1.4,-.8,-2.8,-.5,-1.0,-.6,-1.2,.1,-.9,-1.5,-.4,-1.1,-.7,-.2,-1.3,-.8,-1.7,-.5,-1.0,-.3,-1.2,-.6,-2.2,-.9,-.4,-1.4,-.7,-1.0,-.2,-1.6,-.8,-.5,-1.1,-.3,-1.3,-.7,-2.0,-.9,-.5,-1.2,-.6,-1.0,-.1,-1.5,-.8,-.4,-1.1,-2.4,-.7,-1.3,-.5,-.9,-1.2,-.4,-1.6,-.8,-.3,-1.0,-.6,-1.4,-.9,-1.9,-.5,-1.1,-.7,-.2,-1.3,-.8,-1.0,-.6,-1.5,-.4];
const trTkBlue = [.3,-.4,.6,-1.2,.1,-.7,.8,-.2,-2.1,.4,-.5,.9,-1.0,.2,-.3,.7,-1.6,0,.5,-.8,.3,-2.5,.6,-.1,-1.3,.8,-.6,.2,-2.8,.4,-.4,.9,-.9,.1,.5,-1.8,.3,-.2,.7,-1.1,-.5,.6,-3.0,.2,.8,-.7,.4,-.3,-1.5,.9,.1,-.6,.5,-2.2,.3,-1.0,.7,-.4,-3.3,.2,.6,-.8,0,-1.9,.8,-.2,.4,-1.2,.1,.9,-.5,-2.6,.3,.6,-.9,-4.35,.2,-.3,.7,-1.4,.5,-.6,.1,-2.0,.8,-.1,.4,-1.1,.6,-2.9,.2,-.4,.9,-.8,.3,-1.7,.5,-.2,.7,-1.0];
const trTkBlue2 = [.5,-.2,.8,-.9,.3,.9,-1.4,.1,.6,-.5,.4,-2.4,.7,-.1,.2,-1.0,.9,.3,-.6,.5,-1.7,.8,0,.4,-.8,.6,-2.9,.2,.7,-.3,.9,-1.2,.4,.1,-.4,.8,-2.0,.5,-.2,.6,-1.1,.3,.9,-.6,.1,-3.5,.7,-.3,.4,-1.5,.8,.2,-.5,.6,-2.2,.3,.9,-.9,.1,.5,-1.3,.7,-.1,.4,-2.7,.8,.2,-.7,.6,-1.8,.3,.9,-.4,.1,-1.0,.7,-2.3,.5,-.2,.8,-.8,.4,-1.6,.6,.1,-3.0,.9,-.5,.3,-1.2,.7,0,-.6,.5,-2.5,.8,.2,-.9,.4,-1.4,.6,-.3,.9,-2.0,.2,-.7,.7,-1.1,.5,.1,-3.8,.8,-.4,.3,-1.7,.6,-.1,.9,-.9,.4];
const trTkOrange = [.8,.2,1.1,-.3,.6,1.0,-.8,.5,1.2,0,.7,-1.5,.9,.4,1.1,-.5,.6,1.0,.1,-2.3,.8,.3,1.2,-.2,.7,.9,-1.1,.5,1.0,.2,-.6,1.1,.4,.8,-2.6,.6,1.2,0,.9,.3,-.4,1.0,.7,-1.3,.5,1.1,.2,.8,-.7,1.2,.4,.9,-3.5,.6,1.0,-.1,.7,1.1,.3,-.9,.8,.5,1.2,-2.0,.6,.9,.1,1.0,-.5,.7,1.2,-3.2,.4,.8,0,1.1,-1.2,.6,.9,.3,1.0,-.4,.7,1.2,.2,-1.8,.8,.5,1.1,-.6,.9,-3.0,.4,1.0,.2,.7,-1.0,1.2,.6,.8];
const trTkOrange2 = [1.0,.4,-.2,1.2,.7,-1.0,.9,.3,1.1,-.5,.6,1.2,-1.7,.8,.2,1.0,-.3,.7,1.1,.4,-2.1,.9,.5,1.2,-.7,.6,1.0,.1,-1.3,.8,1.2,.3,-.4,1.0,.7,-2.8,.5,1.1,-.1,.9,.4,-1.1,1.2,.6,-.6,.8,1.0,-2.4,.3,1.1,.7,-.9,.5,1.2,-.2,.9,-1.5,.6,1.0,.2,-3.1,.8,1.2,-.5,.7,.4,1.1,-1.2,.9,.3,-.8,1.0,.6,-2.0,1.2,.5,-.3,.8,1.1,-1.6,.7,.2,1.0,-.6,1.2,-2.6,.9,.4,-1.0,1.1,.6,-.1,.8,-1.9,1.0,.5,1.2,-.4,.7,-3.3,.9,.3,1.1,-.7,.6,1.0,-1.4,.8,-.2,1.2,.5,-2.2,.9,.1,1.0,-.9,.7,1.2,-.5,.8];
const trTkGreen = [-.2,.4,-.9,.1,-1.6,-.4,.6,-.7,-.1,-2.4,.3,-.5,-1.2,.5,-.3,-.8,.2,-2.9,-.6,.4,-1.0,-.2,.6,-1.5,-.4,.1,-.9,.5,-2.0,-.3,.3,-.7,-1.3,.2,-.5,.7,-3.1,-.1,.4,-1.1,-.6,.3,-1.8,-.2,.5,-.9,0,-2.5,-.4,.6,-1.0,-.3,.2,-1.4,-.7,.4,-.2,-2.2,-.5,.3,-.9,.1,-1.6,-.3,.5,-3.4,-.6,.2,-1.1,-.1,.6,-.8,-2.1,-.4,.3,-1.3,-.2,.5,-.7,-2.7,-.3,.4,-1.0,-.5,.1,-1.9,-.2,.6,-.8,-.4,-2.4,.2,-.6,-1.2,.4,-.1,-3.0,-.5,.3,-.9];
const trTkGreen2 = [-.5,.2,-1.1,-.3,.5,-1.8,-.6,.1,-2.6,-.2,.4,-.9,-1.4,.3,-.4,-2.0,-.7,.6,-1.2,-.1,-3.0,.2,-.8,-.3,-1.6,.5,-.5,-2.3,-.9,.1,-.2,-1.3,.4,-.6,-2.8,-.1,.3,-1.0,-.4,-1.9,.2,-.7,-.2,-3.3,.5,-.9,-1.4,-.3,.1,-2.1,-.6,.4,-1.1,-.2,-2.6,-.8,.3,-1.5,-.4,0,-2.4,-.5,.6,-1.0,-.3,-3.1,-.8,.2,-1.7,-.1,-.6,-2.2,.4,-.9,-1.3,-.2,-2.9,-.5,.1,-1.2,-.4,-1.9,.5,-.7,-2.5,-.2,-1.0,.3,-3.5,-.6,-.1,-1.4,-.8,.2,-2.0,-.3,-1.1,.4,-2.7,-.5,-.9,-.2,-1.6,.1,-2.3,-.7,-.4,-1.2,.3,-3.0,-.6,-1.0,-.1,-1.8,-.5,.2,-2.4,-.8,-.3,-1.3];
const trVelBlue = [-.6,-.599,-.601,-.6,-.6,-.599,-.601,-.6,-.6,-.6];
const trVelOrange = [.2,.2,.201,.199,.2,.2,.201,.2,.199,.2];
const trVelGreen = [.601,.6,.602,.601,.6,.603,.601,.6,.602,.601];
const trAb12 = [.241,.234,.246,.238,.229,.243,.25,.236,.24,.225,.244,.237,.252,.232,.241,.247,.235,.239,.258,.243,.23,.24,.248,.236,.244,.227,.239,.251,.234,.242,.246,.231,.24,.237,.254,.243,.235,.2135,.228,.241,.245,.238,.233,.249,.24,.26,.236,.243,.229,.244,.239,.247,.232,.241,.226,.245,.237,.25,.234,.242,.238,.246,.231,.24,.253,.236,.243,.227,.241,.248,.235,.244,.239,.2662,.233,.242,.247,.237,.23,.245,.24,.249,.236,.243,.226,.241,.251,.238,.234,.246,.24,.232,.244,.238,.255,.236,.243,.229,.241,.247];
const trAb12b = [.238,.245,.231,.242,.249,.235,.24,.228,.246,.237,.253,.233,.243,.239,.226,.248,.236,.244,.231,.257,.241,.234,.247,.238,.22,.245,.237,.251,.232,.243,.24,.229,.248,.236,.244,.255,.234,.241,.23,.246,.238,.25,.227,.243,.239,.235,.261,.24,.232,.245,.237,.248,.224,.242,.236,.252,.239,.231,.244,.241,.247,.233,.24,.256,.235,.243,.228,.246,.238,.25,.234,.242,.222,.245,.239,.236,.253,.24,.23,.247,.237,.243,.259,.233,.241,.248,.229,.244,.236,.251,.24,.226,.245,.238,.242,.234,.255,.239,.231,.246,.243,.237,.249,.225,.241,.235,.252,.239,.244,.232,.247,.238,.26,.236,.243,.229,.245,.24,.234,.242];
const trEm12 = [-.05,-.09,-.02,-.11,-.06,-.14,-.04,-.08,.01,-.1,-.07,-.16,-.03,-.09,-.05,-.12,.03,-.07,-.2,-.06,-.1,-.02,-.08,-.13,-.05,-.09,0,-.11,-.06,-.15,-.04,-.08,-.1,-.03,-.07,-.12,-.05,.02,-.09,-.17,-.06,-.1,-.04,-.08,-.13,-.02,-.07,-.11,-.05,-.09,.04,-.06,-.14,-.08,-.03,-.1,-.06,-.19,-.05,-.09,.1,-.07,-.12,-.04,-.08,-.1,-.02,-.15,-.06,-.09,-.05,-.11,-.24,-.07,-.03,-.1,-.08,-.13,-.05,.01,-.09,-.06,-.11,-.04,-.08,-.16,-.07,-.02,-.1,-.05,-.12,-.08,0,-.06,-.14,-.09,-.04,-.07,-.11,-.05];
const trEm12b = [-.08,-.03,-.12,-.06,0,-.1,-.05,-.15,-.07,-.02,-.11,-.06,-.18,-.04,-.09,.05,-.07,-.13,-.05,-.1,-.01,-.08,-.14,-.06,-.03,-.11,-.21,-.07,-.04,-.09,.02,-.06,-.12,-.08,-.16,-.05,-.1,-.02,-.07,-.13,-.06,.06,-.09,-.04,-.14,-.08,-.01,-.11,-.06,-.19,-.07,-.03,-.1,-.05,.08,-.08,-.12,-.06,-.02,-.15,-.07,-.1,-.04,-.22,-.08,.03,-.06,-.11,-.05,-.13,-.09,-.01,-.07,-.16,-.04,-.1,.07,-.06,-.12,-.08,-.03,-.14,-.07,-.05,-.2,-.09,-.02,-.11,-.06,.04,-.08,-.13,-.05,-.1,-.17,-.07,-.03,-.12,-.06,0,-.09,-.15,-.05,-.08,-.02,-.11,-.07,-.18,-.04,-.1,.05,-.06,-.13,-.08,-.03,-.12,-.07,-.16,-.05,-.09];
const trAb65 = [-.4195,-.422,-.418,-.4205,-.4235,-.4175,-.421,-.4188,-.4225,-.416,-.4202,-.4182,-.4245,-.4198,-.4215,-.4168,-.4208,-.4228,-.419,-.4212,-.4185,-.4238,-.4198,-.4172,-.4218,-.4205,-.4152,-.4225,-.4192,-.4208,-.4255,-.4185,-.4212,-.4198,-.4165,-.4222,-.4202,-.4188,-.4232,-.4195,-.4301,-.4178,-.4215,-.4198,-.4242,-.4185,-.4208,-.4162,-.4222,-.4195,-.4212,-.418,-.4235,-.4198,-.4218,-.4158,-.4205,-.4228,-.4188,-.4212,-.4175,-.4225,-.4198,-.4248,-.4192,-.4215,-.417,-.4208,-.4232,-.4185,-.4218,-.4198,-.4168,-.4225,-.4205,-.4188,-.4238,-.4195,-.4212,-.4178,-.4222,-.4198,-.4158,-.4215,-.4205,-.4185,-.4242,-.4195,-.4218,-.4172,-.4208,-.4228,-.4192,-.4215,-.4162,-.4225,-.4198,-.4107,-.4212,-.4235];
const trAb65b = [-.4205,-.4182,-.4228,-.4195,-.4165,-.4218,-.4202,-.4245,-.4188,-.4212,-.4172,-.4232,-.4198,-.4155,-.4215,-.4192,-.4238,-.4205,-.4178,-.4222,-.4198,-.4262,-.4185,-.4212,-.4168,-.4225,-.4195,-.4208,-.4145,-.4218,-.4188,-.4235,-.4202,-.4175,-.4215,-.4192,-.4252,-.4208,-.4182,-.4225,-.4195,-.4162,-.4218,-.4205,-.4242,-.4188,-.4212,-.4172,-.4228,-.4198,-.4138,-.4215,-.4192,-.4235,-.4205,-.4182,-.4222,-.4198,-.4268,-.4208,-.4175,-.4218,-.4195,-.4158,-.4228,-.4202,-.4188,-.4245,-.4212,-.4178,-.4222,-.4195,-.4165,-.4215,-.4205,-.4258,-.4192,-.4218,-.4148,-.4208,-.4225,-.4188,-.4212,-.4175,-.4238,-.4198,-.4205,-.4162,-.4222,-.4192,-.4215,-.4248,-.4185,-.4208,-.4132,-.4218,-.4198,-.4228,-.4178,-.4212,-.4195,-.4242,-.4205,-.4168,-.4222,-.4188,-.4215,-.4155,-.4228,-.4198,-.4275,-.4205,-.4182,-.4218,-.4195,-.4238,-.4172,-.4212,-.4128,-.4202];
const trEm65 = [.22,.18,.26,.21,.15,.24,.2,.29,.19,.23,.12,.25,.21,.17,.27,.22,.31,.19,.24,.16,.23,.2,.28,.14,.22,.25,.18,.3,.21,.24,.19,.26,.11,.23,.2,.27,.22,.17,.25,.21,.28,.19,.23,.33,.2,.24,.16,.22,.26,.18,.25,.21,.13,.23,.27,.2,.24,.19,.29,.22,.18,.25,.21,.365,.23,.17,.26,.2,.24,.15,.22,.28,.19,.23,.07,.25,.21,.27,.18,.24,.22,.3,.2,.16,.25,.21,.26,.19,.23,.14,.24,.2,.28,.22,.17,.25,.21,.32,.19,.23];
const trEm65b = [.21,.25,.18,.23,.28,.2,.16,.24,.22,.3,.19,.26,.14,.23,.21,.27,.17,.25,.2,.32,.22,.18,.26,.12,.24,.21,.29,.19,.23,.16,.25,.22,.34,.2,.17,.27,.23,.15,.24,.21,.28,.18,.25,.22,.1,.26,.2,.23,.31,.19,.24,.17,.27,.22,.13,.25,.21,.29,.18,.23,.2,.26,.16,.24,.22,.35,.19,.25,.21,.14,.27,.23,.18,.3,.22,.2,.25,.11,.24,.21,.28,.17,.23,.26,.2,.15,.25,.22,.33,.19,.24,.21,.27,.13,.23,.2,.26,.18,.29,.22,.24,.16,.25,.21,.31,.19,.23,.27,.12,.24,.2,.26,.22,.17,.28,.21,.25,.19,.34,.23];
const trAb67 = [-.4772,-.479,-.4758,-.478,-.4805,-.4765,-.4778,-.4745,-.4795,-.477,-.4762,-.4812,-.4775,-.4752,-.4788,-.477,-.4825,-.4768,-.4782,-.4748,-.4778,-.4798,-.4762,-.4775,-.4735,-.4785,-.477,-.4808,-.4765,-.4782,-.4755,-.4792,-.4772,-.4842,-.4768,-.478,-.4728,-.4775,-.4795,-.4762,-.4785,-.4758,-.4818,-.4772,-.4765,-.4788,-.4742,-.4778,-.4802,-.4768,-.4782,-.4755,-.4795,-.4775,-.4888,-.477,-.4762,-.4785,-.4748,-.4778,-.4792,-.4765,-.4772,-.4738,-.4788,-.4775,-.4805,-.4762,-.4782,-.4752,-.4778,-.4815,-.4768,-.4785,-.4745,-.4775,-.4795,-.4765,-.4782,-.4722,-.4778,-.4802,-.4765,-.4788,-.4755,-.4772,-.4828,-.4768,-.4782,-.4748,-.4775,-.4795,-.4762,-.4785,-.4735,-.4778,-.4808,-.4668,-.4772,-.4788];
const trAb67b = [-.4768,-.4795,-.4752,-.4782,-.4775,-.4812,-.4762,-.4788,-.4738,-.4778,-.4802,-.4765,-.4785,-.4745,-.4772,-.4825,-.4768,-.4792,-.4758,-.4778,-.4732,-.4785,-.4765,-.4805,-.4775,-.4748,-.4792,-.4768,-.4838,-.4778,-.4755,-.4785,-.4762,-.4798,-.4725,-.4775,-.4788,-.4765,-.4815,-.4772,-.4745,-.4782,-.4768,-.4802,-.4758,-.4778,-.4852,-.4765,-.4788,-.4738,-.4775,-.4795,-.4762,-.4782,-.4718,-.4772,-.4808,-.4768,-.4785,-.4752,-.4778,-.4822,-.4765,-.4792,-.4742,-.4775,-.4788,-.4758,-.4802,-.4772,-.4735,-.4785,-.4768,-.4812,-.4762,-.4778,-.4748,-.4795,-.4775,-.4868,-.4768,-.4785,-.4728,-.4778,-.4802,-.4762,-.4788,-.4752,-.4775,-.4818,-.4765,-.4792,-.4742,-.4782,-.4772,-.4805,-.4758,-.4778,-.4712,-.4785,-.4768,-.4798,-.4762,-.4775,-.4832,-.4755,-.4788,-.4772,-.4745,-.4802,-.4765,-.4782,-.4728,-.4778,-.4795,-.4762,-.4815,-.4772,-.4688,-.4785];
const trEm67 = [.15,.19,.12,.17,.22,.1,.16,.14,.2,.11,.18,.15,.24,.13,.17,.08,.16,.21,.14,.19,.12,.17,.15,.23,.1,.18,.16,.13,.2,.15,.27,.12,.17,.14,.19,.06,.16,.21,.13,.18,.15,.2,.11,.17,.14,.25,.16,.12,.19,.15,.09,.18,.22,.14,.16,.12,.2,.15,.28,.13,.17,.15,.19,.1,.16,.21,.14,.18,.12,.17,.24,.15,.13,.19,.16,.11,.18,.15,.22,.14,.17,.12,.2,.15,.1,.18,.23,.14,.16,.19,.13,.33,.15,.08,.17,.21,-.02,.16,.19,.14];
const trEm67b = [.16,.13,.19,.15,.1,.18,.21,.14,.17,.07,.16,.2,.13,.18,.24,.15,.11,.19,.16,.26,.14,.17,.12,.2,.15,.09,.18,.22,.14,.16,.11,.19,.15,.27,.13,.17,.2,.05,.16,.18,.14,.21,.12,.17,.15,.23,.1,.18,.16,.13,.29,.15,.19,.12,.17,.14,.2,.08,.16,.22,.15,.18,.11,.25,.14,.17,.19,.13,.16,.04,.18,.21,.14,.16,.12,.2,.15,.28,.17,.13,.19,.1,.16,.23,.14,.18,.15,.12,.21,.16,.31,.13,.17,.09,.19,.15,.24,.14,.01,.18,.16,.12,.2,.15,.26,.13,.18,.17,.11,.22,.15,.19,.14,.3,.16,.12,.2,.17,.08,.21];
const trAb20 = [-.415,-.412,-.418,-.4135,-.4165,-.4105,-.415,-.419,-.4125,-.4155,-.4175,-.411,-.4145,-.4205,-.413,-.416,-.4095,-.4148,-.4185,-.412,-.4158,-.414,-.4215,-.4118,-.4152,-.4172,-.4085,-.4145,-.4195,-.4128,-.416,-.4138,-.4178,-.4112,-.415,-.4235,-.4132,-.4162,-.401,-.4148,-.4188,-.4125,-.4158,-.4142,-.4198,-.4115,-.4155,-.4172,-.4135,-.4092,-.4165,-.4145,-.4208,-.4128,-.4152,-.418,-.4118,-.4148,-.4162,-.4105,-.4175,-.4138,-.4155,-.4225,-.4132,-.4158,-.4112,-.4168,-.4145,-.4192,-.4128,-.4152,-.4098,-.416,-.414,-.4182,-.4122,-.4155,-.4165,-.4135,-.4148,-.4108,-.4172,-.4142,-.4198,-.4125,-.4158,-.4135,-.4182,-.4118,-.4152,-.4168,-.413,-.4205,-.4145,-.4112,-.416,-.4287,-.414,-.4135];
const trAb20b = [-.4142,-.4178,-.412,-.4158,-.4132,-.4195,-.415,-.4105,-.4168,-.4138,-.4188,-.4125,-.4155,-.4215,-.4145,-.4112,-.4172,-.414,-.4098,-.4162,-.4135,-.4182,-.4148,-.4118,-.4205,-.4152,-.413,-.4165,-.4088,-.4145,-.4178,-.4122,-.4158,-.4228,-.414,-.4115,-.4168,-.4135,-.4192,-.4148,-.4102,-.416,-.4132,-.4185,-.4145,-.4075,-.4165,-.4138,-.4198,-.4125,-.4155,-.4178,-.4112,-.4148,-.4218,-.4135,-.4162,-.4095,-.415,-.4182,-.4128,-.4158,-.4108,-.4172,-.4142,-.4245,-.4138,-.4165,-.4118,-.4188,-.4148,-.4102,-.4158,-.4132,-.4205,-.4145,-.4125,-.4175,-.4085,-.416,-.4138,-.4195,-.4148,-.4115,-.4168,-.4132,-.4182,-.4142,-.4098,-.4162,-.4128,-.4212,-.4152,-.4118,-.4172,-.4138,-.4065,-.4158,-.4185,-.4142,-.4125,-.4168,-.4148,-.4235,-.4135,-.4158,-.4105,-.4175,-.4142,-.4192,-.4128,-.4155,-.4112,-.4165,-.4138,-.4202,-.4148,-.4122,-.418,-.4145];
const trEm20 = [.17,.14,.2,.16,.12,.19,.22,.15,.18,.1,.17,.21,.14,.31,.16,.19,.13,.18,.23,.15,.17,.11,.2,.16,.14,.19,.25,.15,.18,.12,.17,.21,.14,.16,.09,.19,.17,.22,.15,.18,.13,.2,.16,.24,.14,.18,.17,.11,.19,.15,.21,.16,.13,.18,.26,.15,.17,.2,.12,.16,.19,.011,.17,.22,.15,.18,.14,.2,.16,.27,.13,.18,.17,.1,.19,.15,.22,.16,.14,.18,.17,.21,.13,.19,.16,.24,.15,.11,.18,.2,.16,.14,.19,.17,.12,.22,.16,.18,.15,.19];
const trEm20b = [.16,.19,.13,.17,.22,.15,.18,.11,.2,.16,.14,.25,.17,.12,.19,.15,.21,.09,.17,.23,.14,.18,.16,.28,.13,.19,.15,.2,.1,.17,.22,.14,.18,.16,.12,.24,.15,.19,.17,.07,.2,.15,.18,.13,.26,.16,.19,.14,.21,.17,.11,.18,.23,.15,.16,.2,.12,.3,.17,.14,.19,.15,.22,.1,.18,.16,.2,.13,.24,.17,.15,.19,.08,.18,.21,.14,.16,.27,.13,.19,.17,.22,.15,.11,.18,.2,.14,.25,.16,.19,.12,.17,.21,.15,.29,.16,.13,.19,.18,.1,.2,.15,.17,.23,.14,.18,.16,.12,.21,.17,.26,.15,.19,.13,.18,.22,.16,.09,.19,.17];
const trNth = [-.2,.3,-.6,.1,-.9,-.3,.4,-.1,-1.2,-.4,.2,2.4,-.5,0,-.8,.3,-.2,-1.4,.1,-.6,.5,-.3,-.1,-1.0,.2,-.4,.6,-.7,-.2,.1,-1.5,-.3,.4,-.6,0,1.3,-.4,-.9,.2,-.2,-1.7,.3,-.5,0,-.8,.5,-.2,-.4,.9,-.6,.1,-1.1,-.3,.4,1.6,-.5,-.1,-.9,.2,-.4,.3,-.7,-.2,.6,-1.3,-.1,-2.4,.2,-.5,-3.156,0,-.3,.5,-.8,-.2,1.1,-.6,.1,-.4,-1.0,.3,-.2,-.7,.4,-.1,-1.2,.2,-.5,.6,-.3,-.9,.1,-.4,1.2,-.6,0,-.2,-1.1,.3,-.5];
const trNth2 = [.1,-.4,-.1,-.8,.3,-.3,-1.1,.2,-.5,0,-.2,-.9,.4,-.6,-.1,-1.3,.2,-.3,.7,-.5,-.2,.1,-1.0,-.4,.5,-.7,-.1,-.3,-1.6,.3,-.5,.1,-.8,-.2,.9,-.4,-.1,-1.2,.2,-.6,-.3,.4,-.9,0,-.5,-2.1,-.2,.3,-.7,-.1,-.4,1.0,-.6,-.2,-1.1,.2,-.3,-.8,.5,-.5,-.1,-1.4,.3,-.4,-.2,.6,-.9,-.1,-.5,-1.8,.1,-.3,.4,-.7,-.2,-1.0,.2,-.6,1.4,-.4,-.1,-2.7,-.3,.3,-.8,-.2,.5,-.5,-1.2,0,-.4,.2,-.9,-.1,-.6,.8,-.3,-1.5,.1,-.5,-.2,.3,-.7,-.1,-1.0,.4,-.4,-.2,-.8,.6,-.5,-1.3,0,-.3,.2,-.6,-.1,-1.1,.3,-.4];
const trDnp = [.2,-.6,.9,-1.1,.4,-.3,1.3,-.8,.1,-1.5,.6,-.2,-2.4,.8,-.5,.3,1.6,-.9,0,-.4,1.0,-1.2,.5,-.7,.2,-1.8,.7,-.1,1.4,-.6,.3,-1.0,2.0,-.3,.6,-1.4,.1,-.8,-3.95,.4,-.2,1.1,-.9,.5,2.4,-.4,0,-1.3,.8,-.6,.3,-.1,1.2,-1.7,.6,-.3,.9,-1.0,.2,-.5,1.5,-.2,-2.3,.4,-.8,1.0,-.1,.7,-1.2,.3,2.2,-.6,.1,-.9,1.3,-.4,.5,-1.5,3.15,-.2,.6,-1.1,.2,1.7,-.5,0,-2.0,.8,-.3,1.2,-.7,.4,-1.3,.1,.9,-.5,2.1,-.9,.3,-.2];
const trDnp2 = [-.3,.5,-1.0,.8,-.6,.2,-1.6,1.1,-.2,.4,-.9,1.5,-.5,0,-2.1,.7,-.3,1.0,-1.2,.3,-.7,1.8,-.1,-1.4,.6,-.4,.9,-2.6,.2,-.8,1.3,-.2,.5,-1.1,.1,2.3,-.6,.4,-1.7,.8,-.3,0,-1.0,1.2,-.5,.6,-2.0,.3,-.9,1.6,-.1,-.6,.9,-1.3,.2,-.4,2.7,-.8,.5,-1.5,.1,1.0,-.3,-2.4,.7,-.2,.4,-1.1,1.4,-.5,.2,-.9,.6,-1.8,1.9,-.3,0,-1.2,.8,-.6,.3,-2.2,1.1,-.1,-.7,.5,-1.4,2.1,-.4,.2,-1.0,.7,-.2,-3.3,.9,-.5,1.3,-.8,.1,-1.6,.6,-.3,1.7,-1.1,.4,-.6,.8,-2.0,.2,1.2,-.4,-.9,2.5,-.2,.5,-1.3,.3,-.7,1.0,-.1];

// ---------- assembly ----------
const COL = ['#1f77b4','#ff7f0e','#2ca02c'];
const DASH = ['solid','dash','dot','dashdot'];
const rows = [
 {kde:[[n0BlueX,n0Blue,0],[n0OrangeX,n0Orange,1],[n0GreenX,n0Green,2]], tr:[[trN0Blue,0],[trN0Blue2,0],[trN0Orange,1],[trN0Green,2],[trN0Green2,2]]},
 {kde:[[b12BlueX,b12Blue,0],[b12OrangeX,b12Orange,1],[b12GreenX,b12Green,2]], tr:[[trB12Blue,0],[trB12Blue2,0],[trB12Orange,1],[trB12Green,2]]},
 {kde:[[b65BlueX,b65Blue,0],[b65OrangeX,b65Orange,1,true],[b65GreenX,b65Green,2]], tr:[[trB65Blue,0],[trB65Blue2,0],[trB65Orange,1],[trB65Green,2]]},
 {kde:[[b67BlueX,b67Blue,0],[b67OrangeX,b67Orange,1,true],[b67GreenX,b67Green,2]], tr:[[trB67Blue,0],[trB67Orange,1],[trB67Green,2],[trB67Green2,2]]},
 {kde:[[depBlueX,depBlue,0],[depOrangeX,depOrange,1],[depGreenX,depGreen,2]], tr:[[trDepBlue,0],[trDepBlue2,0],[trDepOrange,1],[trDepOrange2,1],[trDepGreen,2],[trDepGreen2,2]]},
 {kde:[[tkBlueX,tkBlue,0],[tkOrangeX,tkOrange,1],[tkGreenX,tkGreen,2]], tr:[[trTkBlue,0],[trTkBlue2,0],[trTkOrange,1],[trTkOrange2,1],[trTkGreen,2],[trTkGreen2,2]]},
 {kde:[[velBlueX,velBlue,0,true],[velOrangeX,velOrange,1,true],[velGreenX,velGreen,2,true]], tr:[[trVelBlue,0],[trVelOrange,1],[trVelGreen,2]]},
 {kde:[[ab12X,ab12,0]], tr:[[trAb12,0],[trAb12b,0]]},
 {kde:[[em12X,em12,0]], tr:[[trEm12,0],[trEm12b,0]]},
 {kde:[[ab65X,ab65,0]], tr:[[trAb65,0],[trAb65b,0]]},
 {kde:[[em65X,em65,0]], tr:[[trEm65,0],[trEm65b,0]]},
 {kde:[[ab67X,ab67,0]], tr:[[trAb67,0],[trAb67b,0]]},
 {kde:[[em67X,em67,0]], tr:[[trEm67,0],[trEm67b,0]]},
 {kde:[[ab20X,ab20,0]], tr:[[trAb20,0],[trAb20b,0]]},
 {kde:[[em20X,em20,0]], tr:[[trEm20,0],[trEm20b,0]]},
 {kde:[[nthX,nth,0]], tr:[[trNth,0],[trNth2,0]]},
 {kde:[[dnpX,dnp,0]], tr:[[trDnp,0],[trDnp2,0]]}
];

const W = 1971, H = 1972;
const LX = [27.7/W, 952.2/W], RX = [1036.6/W, 1961/W];
const TOP0 = 29.3, PITCH = 116.23, PH = 44.6;
const FONT = 'Liberation Serif, DejaVu Serif, serif';
const base = {showline:true, mirror:true, linecolor:'#000', linewidth:1.5, zeroline:false, ticks:'outside', ticklen:5, tickwidth:1, tickcolor:'#000', tickfont:{family:FONT, size:15.5, color:'#000'}, gridcolor:'#b0b0b0', gridwidth:1, fixedrange:true};

const data = [];
const layout = {width:W, height:H, margin:{l:0,r:0,t:0,b:0}, showlegend:false, paper_bgcolor:'#fff', plot_bgcolor:'#fff', annotations:[], font:{family:FONT, size:15.5, color:'#000'}};
const ax = n => n === 1 ? '' : String(n);

rows.forEach((row, r) => {
  const iL = 2*r + 1, iR = 2*r + 2;
  const top = TOP0 + r*PITCH, bot = top + PH;
  const dom = [1 - bot/H, 1 - top/H];
  let M = 0;
  row.kde.forEach(([xg, chains, c, lin]) => {
    chains.forEach((yv, k) => {
      yv.forEach(v => { if (v != null && v > M) M = v; });
      data.push({type:'scatter', mode:'lines', x:xg, y:yv, xaxis:'x'+ax(iL), yaxis:'y'+ax(iL),
        line:{color:COL[c], width:1.7, dash:DASH[k], shape: lin ? 'linear' : 'spline', smoothing:0.7},
        connectgaps:false, hoverinfo:'skip'});
    });
  });
  row.tr.forEach(([v, c]) => {
    data.push({type:'scatter', mode:'lines', x:v.map((_, i) => i*999/(v.length-1)), y:v,
      xaxis:'x'+ax(iR), yaxis:'y'+ax(iR), line:{color:COL[c], width:1}, opacity:0.5, hoverinfo:'skip'});
  });
  layout['xaxis'+ax(iL)] = Object.assign({}, base, {domain:LX, anchor:'y'+ax(iL), range:valueRanges[r], tickvals:kdeTicks[r], tickformat:kdeFmt[r], showgrid:true, ticklabelstandoff:4});
  layout['yaxis'+ax(iL)] = Object.assign({}, base, {domain:dom, anchor:'x'+ax(iL), range:[-0.05*M, 1.05*M], showticklabels:false, ticks:'', showgrid:false});
  layout['xaxis'+ax(iR)] = Object.assign({}, base, {domain:RX, anchor:'y'+ax(iR), range:[0, 999], tickvals:drawTicks, tickformat:'d', showgrid:true, ticklabelstandoff:4});
  layout['yaxis'+ax(iR)] = Object.assign({}, base, {domain:dom, anchor:'x'+ax(iR), range:valueRanges[r], tickvals:trTicks[r], tickformat:trFmt[r], showgrid:true});
  [LX, RX].forEach(d => {
    layout.annotations.push({text:titles[r], xref:'paper', yref:'paper', x:(d[0]+d[1])/2, y:1 - (top-3)/H, xanchor:'center', yanchor:'bottom', showarrow:false, font:{family:FONT, size:16, color:'#000'}});
  });
});

Plotly.newPlot('chart', data, layout, {staticPlot:true, displayModeBar:false});
</script></body></html>
